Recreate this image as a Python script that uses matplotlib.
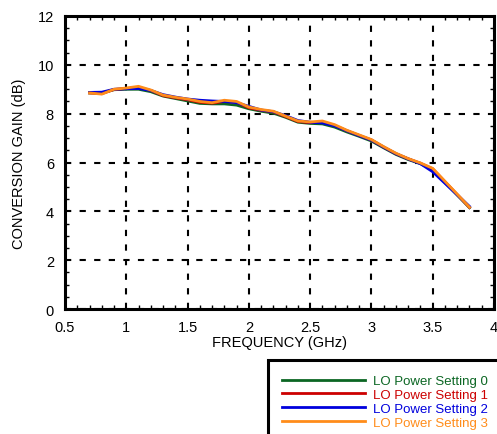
import matplotlib.pyplot as plt
from matplotlib.patches import Rectangle
from matplotlib.ticker import MultipleLocator

plt.rcParams['font.family'] = ['Liberation Sans', 'DejaVu Sans']

freq = [0.7, 0.8, 0.9, 1.0, 1.1, 1.2, 1.3, 1.4, 1.5, 1.6, 1.7, 1.8, 1.9, 2.0,
        2.1, 2.2, 2.3, 2.4, 2.5, 2.6, 2.7, 2.8, 2.9, 3.0, 3.1, 3.2, 3.3, 3.4,
        3.5, 3.8]
gain_0 = [8.85, 8.85, 8.98, 9.00, 9.00, 8.90, 8.72, 8.62, 8.52, 8.42, 8.40, 8.40,
          8.35, 8.20, 8.10, 8.02, 7.85, 7.65, 7.60, 7.58, 7.45, 7.25, 7.07, 6.88,
          6.60, 6.33, 6.12, 5.95, 5.70, 4.15]
gain_1 = [8.85, 8.82, 8.99, 9.03, 9.08, 8.95, 8.74, 8.65, 8.57, 8.47, 8.43, 8.50,
          8.46, 8.24, 8.14, 8.07, 7.88, 7.68, 7.63, 7.66, 7.52, 7.30, 7.11, 6.92,
          6.63, 6.36, 6.15, 5.97, 5.74, 4.16]
gain_2 = [8.87, 8.88, 9.00, 9.02, 9.03, 8.95, 8.78, 8.68, 8.60, 8.55, 8.52, 8.50,
          8.45, 8.30, 8.15, 8.08, 7.92, 7.72, 7.65, 7.62, 7.50, 7.30, 7.10, 6.92,
          6.63, 6.36, 6.15, 5.95, 5.62, 4.20]
gain_3 = [8.85, 8.80, 9.00, 9.05, 9.12, 8.97, 8.76, 8.67, 8.60, 8.50, 8.45, 8.55,
          8.50, 8.27, 8.17, 8.10, 7.90, 7.70, 7.66, 7.70, 7.55, 7.32, 7.13, 6.94,
          6.65, 6.38, 6.16, 5.98, 5.76, 4.17]
labels = ['LO Power Setting 0', 'LO Power Setting 1', 'LO Power Setting 2',
          'LO Power Setting 3']
colors = ['#0b6623', '#cc0000', '#0000dd', '#ff8c1a']

fig = plt.figure(figsize=(4.97, 4.35), dpi=100)
ax = fig.add_axes([65 / 497, 1 - 310 / 435, 429 / 497, 293 / 435])

for g, lab, c in zip([gain_0, gain_1, gain_2, gain_3], labels, colors):
    ax.plot(freq, g, color=c, lw=2, label=lab)

ax.set_xlim(0.5, 4)
ax.set_ylim(0, 12)
ax.xaxis.set_major_locator(MultipleLocator(0.5))
ax.xaxis.set_minor_locator(MultipleLocator(0.1))
ax.yaxis.set_major_locator(MultipleLocator(2))
ax.yaxis.set_minor_locator(MultipleLocator(0.5))
ax.xaxis.set_major_formatter(lambda v, p: f'{v:g}')
ax.tick_params(which='both', direction='in', top=True, right=True, labelsize=10.5)
ax.tick_params(which='major', length=0, pad=8)
ax.tick_params(which='minor', length=3, width=1)
ax.grid(True, which='major', color='black', linestyle=(0, (3, 4)), lw=1.5)
for s in ax.spines.values():
    s.set_linewidth(2.2)
ax.set_xlabel('FREQUENCY (GHz)', fontsize=10.5, labelpad=1)
ax.set_ylabel('CONVERSION GAIN (dB)', fontsize=10.5, labelpad=8)

# legend box runs off the bottom right corner of the figure
fig.patches.append(Rectangle((268 / 497, -0.05), 0.5, 1 - 361 / 435 + 0.05,
                             transform=fig.transFigure, fill=False,
                             edgecolor='black', lw=2.2))
fig.legend(loc='upper left', bbox_to_anchor=(282 / 497, 1 - 376 / 435),
           frameon=False, fontsize=9.5, handlelength=6.3, handletextpad=0.6,
           labelspacing=0.12, borderpad=0, borderaxespad=0,
           labelcolor='linecolor')

fig.savefig('out.png', dpi=100)
